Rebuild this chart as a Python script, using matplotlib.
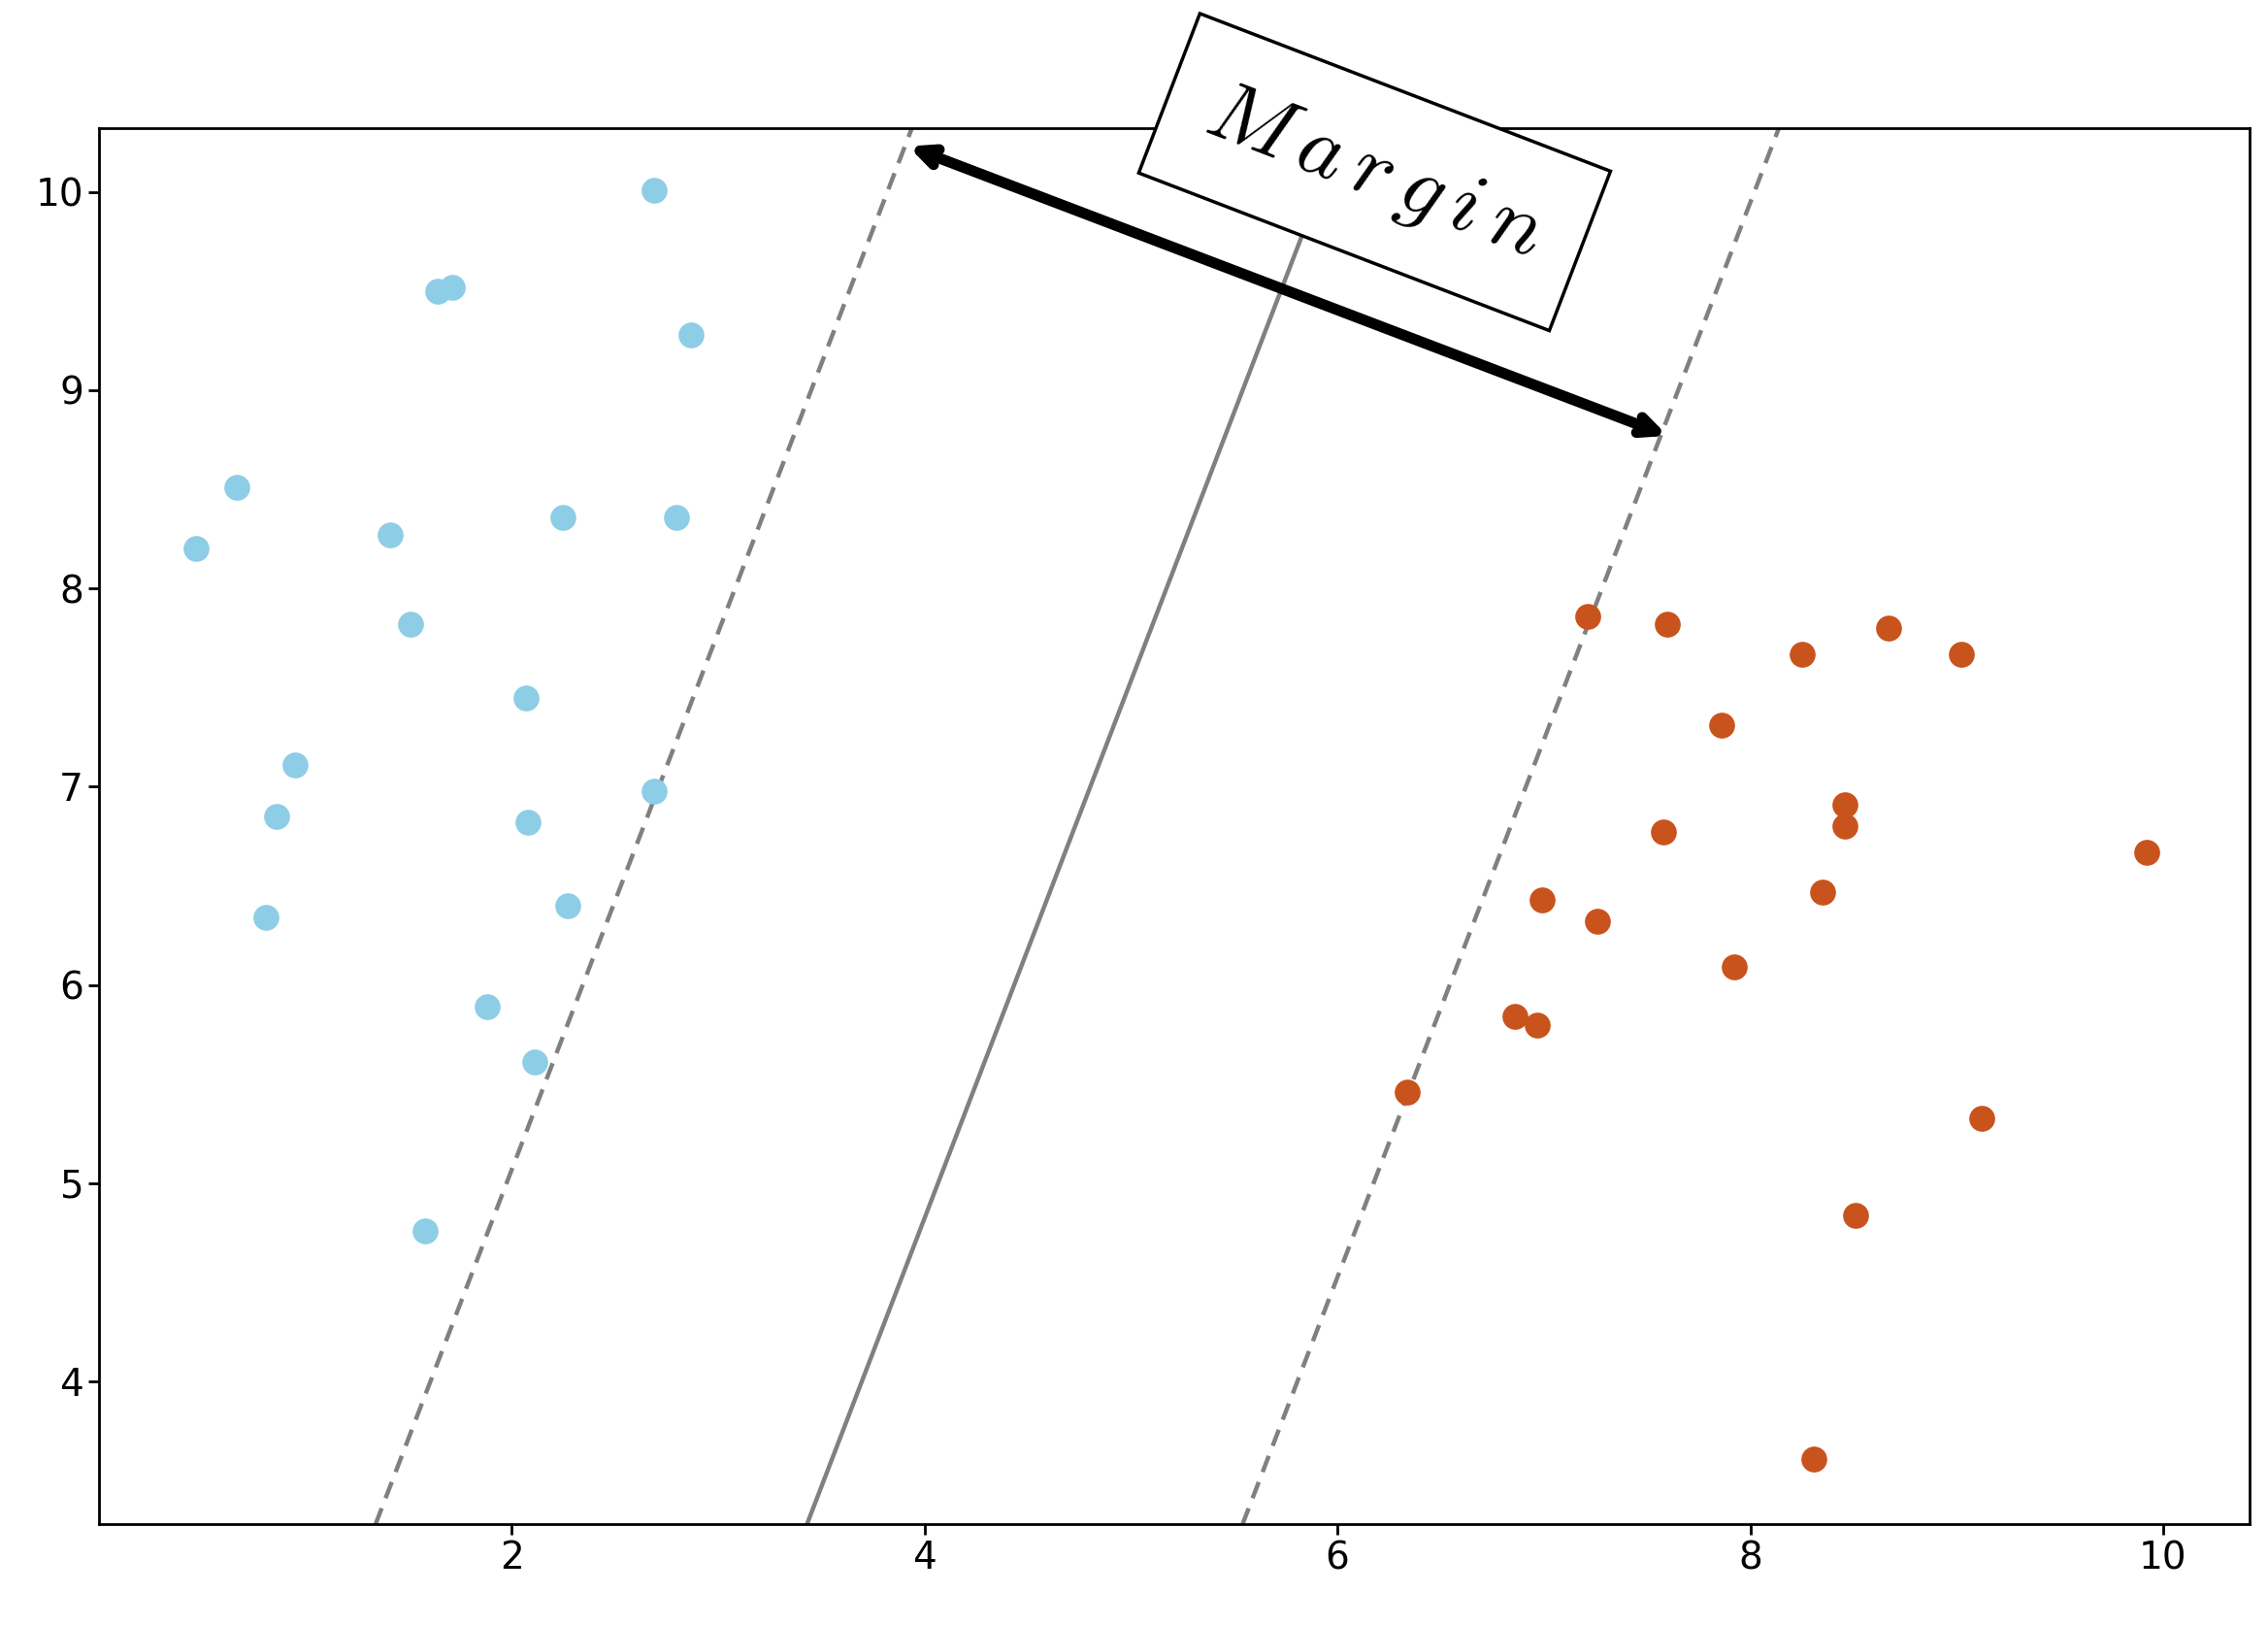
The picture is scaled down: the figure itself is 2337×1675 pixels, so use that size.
import numpy as np
import matplotlib
matplotlib.use('Agg')
from matplotlib import pyplot as plt

# class 0 (blue) and class 1 (orange) points
blue_x = [2.69, 1.64, 1.71, 2.87, 0.67, 0.47, 1.41, 2.25, 2.80, 1.51,
          2.07, 0.95, 0.86, 2.69, 2.08, 0.81, 2.27, 1.88, 2.11, 1.58]
blue_y = [10.01, 9.50, 9.52, 9.28, 8.51, 8.20, 8.27, 8.36, 8.36, 7.82,
          7.45, 7.11, 6.85, 6.98, 6.82, 6.34, 6.40, 5.89, 5.61, 4.76]
orange_x = [7.21, 7.60, 8.25, 8.67, 9.02, 7.86, 8.46, 8.46, 7.58, 9.92,
            6.99, 7.26, 8.35, 7.92, 6.86, 6.97, 6.34, 9.12, 8.51, 8.31]
orange_y = [7.86, 7.82, 7.67, 7.80, 7.67, 7.31, 6.91, 6.80, 6.77, 6.67,
            6.43, 6.32, 6.47, 6.09, 5.84, 5.80, 5.46, 5.33, 4.84, 3.61]

# decision boundary / margins: x value where each line hits y=3.28, shared slope
slope = 2.71
x_at_bottom = {'left': 1.34, 'mid': 3.43, 'right': 5.54}
ylim = (3.28, 10.32)
xlim = (0.0, 10.42)

plt.rcParams['mathtext.fontset'] = 'cm'
fig = plt.figure(figsize=(23.37, 16.75), dpi=100)
ax = fig.add_axes([0.0436, 0.0625, 0.9484, 0.8585])

ax.scatter(blue_x, blue_y, s=330, color='#8ecde6', zorder=3)
ax.scatter(orange_x, orange_y, s=330, color='#c9531c', zorder=3)

ys = np.array(ylim)
for k, x0 in x_at_bottom.items():
    xs = x0 + (ys - ylim[0]) / slope
    ax.plot(xs, ys, color='#808080', lw=3.2,
            ls='-' if k == 'mid' else (0, (4, 2.5)), zorder=2)

ax.annotate('', xy=(3.92, 10.23), xytext=(7.6, 8.77),
            arrowprops=dict(arrowstyle='<->,head_length=1.3,head_width=0.6',
                            color='black', lw=8, shrinkA=0, shrinkB=0),
            annotation_clip=False, zorder=5)

ax.text(6.18, 10.1, r'$M\,a\,r\,g\,i\,n$', fontsize=64, rotation=-21,
        ha='center', va='center', zorder=6, clip_on=False,
        bbox=dict(boxstyle='square,pad=0.5', fc='white', ec='black', lw=2.5))

ax.set_xlim(*xlim)
ax.set_ylim(*ylim)
ax.set_xticks([2, 4, 6, 8, 10])
ax.set_yticks([4, 5, 6, 7, 8, 9, 10])
ax.tick_params(labelsize=28, length=8, width=2)
for sp in ax.spines.values():
    sp.set_linewidth(2)

fig.savefig('out.png')
